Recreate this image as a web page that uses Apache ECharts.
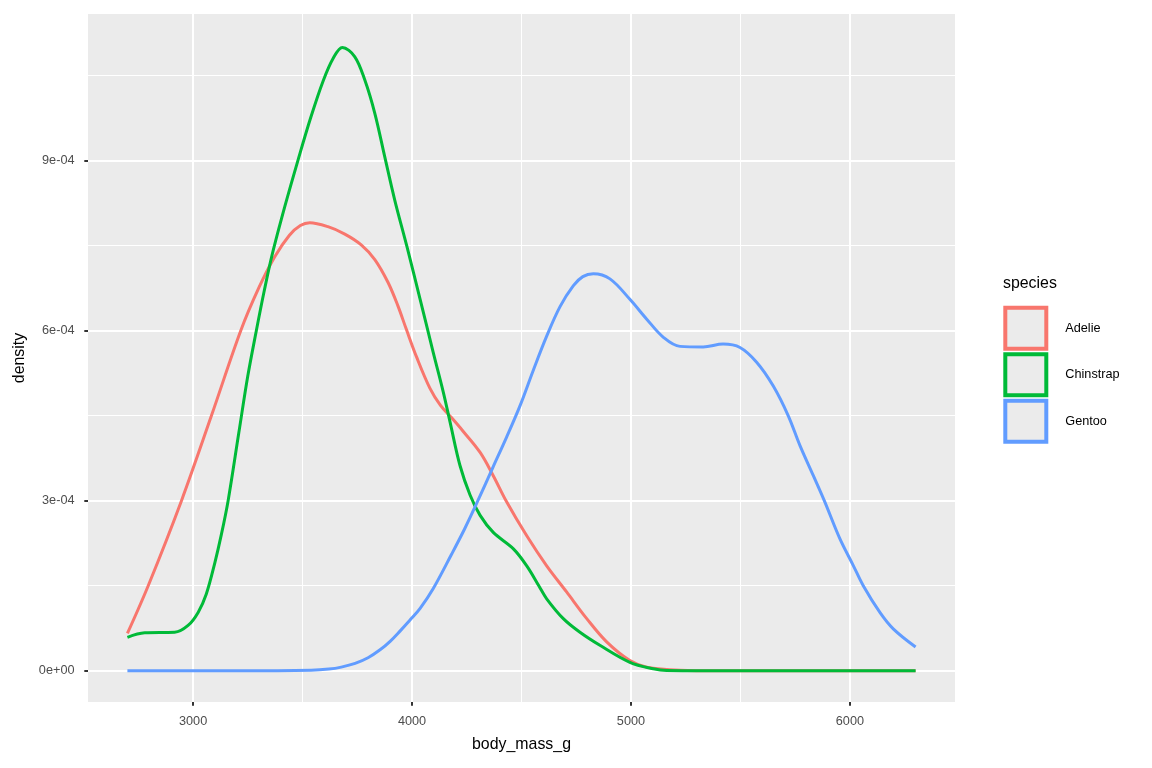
<!DOCTYPE html>
<html lang="en">
<head>
  <meta charset="utf-8">
  <script src="https://cdn.jsdelivr.net/npm/echarts@6/dist/echarts.min.js"></script>
  <style>
    body { margin: 0; background: #fff; }
    #chart { width: 1152px; height: 768px; }
  </style>
</head>
<body>
  <div id="chart"></div>
  <script>
    // density values are in units of 1e-4
    var speciesNames = ['Adelie', 'Chinstrap', 'Gentoo'];
    var speciesColors = ['#F8766D', '#00BA38', '#619CFF'];

    var adelieMass = [2700, 2795, 2947, 3084, 3218, 3300, 3373, 3440, 3490, 3533, 3616, 3693, 3768, 3830, 3890, 3936, 3974, 4021, 4082, 4130, 4181, 4234, 4311, 4371, 4432, 4524, 4615, 4706, 4798, 4889, 4995, 5072, 5224, 5400, 6300];
    var adelieDens = [0.66, 1.5, 3.0, 4.5, 6.0, 6.75, 7.3, 7.68, 7.85, 7.9, 7.83, 7.70, 7.51, 7.25, 6.85, 6.43, 6.02, 5.53, 4.98, 4.68, 4.46, 4.22, 3.85, 3.44, 2.98, 2.38, 1.85, 1.39, 0.92, 0.51, 0.18, 0.065, 0.01, 0, 0];

    var chinstrapMass = [2700, 2779, 2916, 2977, 3023, 3060, 3099, 3129, 3160, 3209, 3250, 3289, 3325, 3362, 3420, 3479, 3537, 3594, 3640, 3682, 3738, 3784, 3830, 3875, 3921, 3976, 4037, 4097, 4143, 4174, 4219, 4265, 4311, 4371, 4463, 4524, 4579, 4615, 4691, 4767, 4858, 4995, 5102, 5163, 5400, 6300];
    var chinstrapDens = [0.59, 0.67, 0.68, 0.80, 1.03, 1.35, 1.9, 2.4, 3.0, 4.2, 5.2, 6.0, 6.7, 7.35, 8.2, 9.0, 9.75, 10.4, 10.8, 10.99, 10.83, 10.42, 9.83, 9.07, 8.3, 7.49, 6.55, 5.61, 4.91, 4.38, 3.62, 3.1, 2.74, 2.44, 2.15, 1.85, 1.5, 1.27, 0.92, 0.68, 0.45, 0.15, 0.035, 0.005, 0, 0];

    var gentooMass = [2700, 3200, 3539, 3620, 3677, 3740, 3799, 3854, 3900, 3945, 3990, 4037, 4097, 4180, 4240, 4295, 4371, 4432, 4493, 4554, 4615, 4676, 4737, 4780, 4828, 4904, 4995, 5072, 5148, 5224, 5330, 5421, 5498, 5574, 5650, 5718, 5772, 5833, 5883, 5954, 6015, 6061, 6137, 6198, 6300];
    var gentooDens = [0, 0, 0.01, 0.03, 0.065, 0.13, 0.23, 0.37, 0.52, 0.70, 0.89, 1.1, 1.45, 2.05, 2.5, 2.95, 3.6, 4.12, 4.67, 5.3, 5.9, 6.42, 6.79, 6.95, 7.0, 6.91, 6.55, 6.20, 5.88, 5.72, 5.71, 5.76, 5.70, 5.44, 5.02, 4.5, 3.97, 3.44, 3.0, 2.33, 1.86, 1.5, 1.03, 0.74, 0.42];

    var xTicks = [3000, 4000, 5000, 6000];
    var yTicks = [0, 3, 6, 9];

    var massList = [adelieMass, chinstrapMass, gentooMass];
    var densList = [adelieDens, chinstrapDens, gentooDens];

    var chart = echarts.init(document.getElementById('chart'));
    var font = 'Liberation Sans, Arial, sans-serif';

    var series = speciesNames.map(function (name, k) {
      return {
        name: name,
        type: 'line',
        data: massList[k].map(function (m, i) { return [m, densList[k][i]]; }),
        symbol: 'none',
        smooth: 0.35,
        lineStyle: { color: speciesColors[k], width: 3 },
        itemStyle: { color: speciesColors[k] },
        animation: false
      };
    });

    var option = {
      animation: false,
      textStyle: { fontFamily: font },
      grid: {
        left: 88, right: 197, top: 14, bottom: 66,
        show: true, backgroundColor: '#EBEBEB', borderWidth: 0
      },
      xAxis: {
        type: 'value',
        min: 2520, max: 6480,
        minInterval: 1000, maxInterval: 1000,
        name: 'body_mass_g',
        nameLocation: 'middle',
        nameGap: 35,
        nameTextStyle: { fontSize: 15.9, color: '#000', fontFamily: font },
        axisLine: { show: false, onZero: false },
        axisTick: { show: true, customValues: xTicks, length: 3.7, lineStyle: { color: '#333', width: 2 } },
        axisLabel: {
          customValues: xTicks, color: '#4D4D4D', fontSize: 12.7, margin: 13, fontFamily: font,
          formatter: function (v) { return String(v); }
        },
        splitLine: { show: true, lineStyle: { color: '#fff', width: 2 } },
        minorTick: { show: false, splitNumber: 2 },
        minorSplitLine: { show: true, lineStyle: { color: '#fff', width: 1 } }
      },
      yAxis: {
        type: 'value',
        min: -0.55, max: 11.58,
        minInterval: 3, maxInterval: 3,
        name: 'density',
        nameLocation: 'middle',
        nameGap: 54,
        nameTextStyle: { fontSize: 15.9, color: '#000', fontFamily: font },
        axisLine: { show: false, onZero: false },
        axisTick: { show: true, customValues: yTicks, length: 3.7, lineStyle: { color: '#333', width: 2 } },
        axisLabel: {
          customValues: yTicks, color: '#4D4D4D', fontSize: 12.7, margin: 13.5, fontFamily: font,
          formatter: function (v) { return v === 0 ? '0e+00' : v + 'e-04'; }
        },
        splitLine: { show: true, lineStyle: { color: '#fff', width: 2 } },
        minorTick: { show: false, splitNumber: 2 },
        minorSplitLine: { show: true, lineStyle: { color: '#fff', width: 1 } }
      },
      legend: {
        orient: 'vertical',
        left: 1003.3, top: 305.7,
        padding: 0,
        itemWidth: 41, itemHeight: 41, itemGap: 1.5,
        icon: 'rect',
        selectedMode: false,
        itemStyle: { color: '#EBEBEB', borderWidth: 4 },
        textStyle: { fontSize: 12.7, color: '#000', fontFamily: font, padding: [0, 0, 0, 14] },
        data: speciesNames.map(function (name, k) {
          return { name: name, itemStyle: { color: '#EBEBEB', borderColor: speciesColors[k], borderWidth: 4 } };
        })
      },
      graphic: [{
        type: 'text', left: 1003, top: 276,
        style: { text: 'species', fontSize: 15.9, fill: '#000', fontFamily: font }
      }],
      series: series
    };

    chart.setOption(option);
  </script>
</body>
</html>
